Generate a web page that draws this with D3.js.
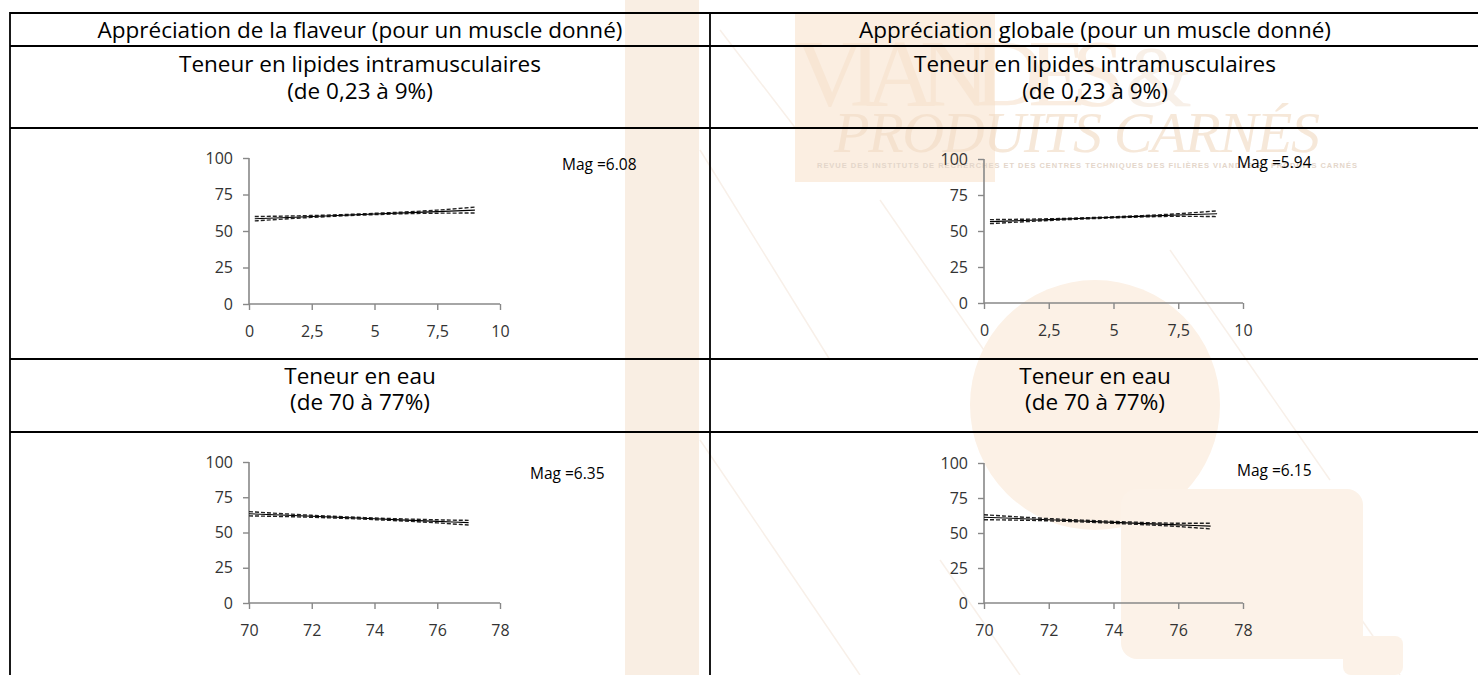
<!DOCTYPE html>
<html lang="fr">
<head>
<meta charset="utf-8">
<script src="https://cdn.jsdelivr.net/npm/d3@7"></script>
<style>
  body { margin: 0; background: #fff; }
  svg { display: block; font-family: "Open Sans", Lato, sans-serif; }
</style>
</head>
<body>
<div id="chart"></div>
<script>
// --- data ---
const colHeaders = ["Appréciation de la flaveur (pour un muscle donné)", "Appréciation globale (pour un muscle donné)"];
const rowLipides = ["Teneur en lipides intramusculaires", "(de 0,23 à 9%)"];
const rowEau = ["Teneur en eau", "(de 70 à 77%)"];

const yTicks = [0, 25, 50, 75, 100];
const xTicksLipides = [0, 2.5, 5, 7.5, 10];
const xTicksEau = [70, 72, 74, 76, 78];

const xLipides = [0.23, 2.5, 5, 7.5, 9];
const xEau = [70, 72, 74, 76, 77];

// flaveur ~ lipides
const flavLipFit = [58.4, 59.9, 61.6, 63.3, 64.3];
const flavLipHigh = [59.9, 60.6, 62.1, 64.3, 66.4];
const flavLipLow = [56.9, 59.3, 61.2, 62.2, 62.3];
// globale ~ lipides
const globLipFit = [56.5, 57.9, 59.5, 61.1, 62.0];
const globLipHigh = [57.9, 58.5, 59.9, 62.0, 64.0];
const globLipLow = [55.1, 57.3, 59.1, 60.2, 60.0];
// flaveur ~ eau
const flavEauFit = [63.3, 61.5, 59.7, 57.9, 57.0];
const flavEauHigh = [64.8, 62.2, 60.3, 59.0, 58.6];
const flavEauLow = [61.8, 60.8, 59.1, 56.8, 55.3];
// globale ~ eau
const globEauFit = [61.3, 59.5, 57.6, 55.8, 54.9];
const globEauHigh = [63.0, 60.3, 58.3, 57.0, 57.0];
const globEauLow = [59.5, 58.7, 56.9, 54.6, 52.9];

const mags = ["6.08", "5.94", "6.35", "6.15"];

const W = 1478, H = 675;
const frFormat = d3.formatLocale({decimal: ",", thousands: " ", grouping: [3], currency: ["", " €"]}).format("~g");

const svg = d3.select("#chart").append("svg")
  .attr("width", W)
  .attr("height", H);

// watermark (behind everything)
const wm = svg.append("g").attr("class", "watermark");
wm.append("rect").attr("x", 625).attr("y", 0).attr("width", 74).attr("height", H).attr("fill", "#f9eee3");
[[700, 150, 830, 360], [720, 30, 820, 160], [700, 440, 860, 675], [880, 200, 1060, 460], [1170, 250, 1330, 480], [1320, 560, 1400, 675], [940, 560, 1020, 675]]
  .forEach(l => wm.append("line")
    .attr("x1", l[0]).attr("y1", l[1]).attr("x2", l[2]).attr("y2", l[3])
    .attr("stroke", "#f8f0e9").attr("stroke-width", 1.5));
wm.append("circle").attr("cx", 1095).attr("cy", 405).attr("r", 125).attr("fill", "#fcf1e6");
wm.append("rect").attr("x", 1121).attr("y", 489).attr("width", 242).attr("height", 170).attr("rx", 16).attr("fill", "#fcf2e8");
wm.append("rect").attr("x", 1343).attr("y", 636).attr("width", 60).attr("height", 39).attr("rx", 8).attr("fill", "#fcf2e8");
wm.append("rect").attr("x", 795).attr("y", 14).attr("width", 200).attr("height", 168).attr("fill", "#fbeee1");
wm.append("text").attr("x", 795).attr("y", 106).attr("font-family", "'Liberation Serif', serif")
  .attr("font-size", 96).attr("fill", "#f6e0ca").attr("opacity", 0.55).attr("textLength", 330).text("VIANDES");
wm.append("text").attr("x", 1125).attr("y", 106).attr("font-family", "'Liberation Serif', serif")
  .attr("font-size", 86).attr("fill", "#f3e2d3").attr("opacity", 0.5).text("&");
wm.append("text").attr("x", 834).attr("y", 152).attr("font-family", "'Liberation Serif', serif")
  .attr("font-style", "italic").attr("font-size", 58).attr("fill", "#f2dcc6").attr("opacity", 0.65)
  .attr("textLength", 486).text("PRODUITS CARNÉS");
wm.append("text").attr("x", 817).attr("y", 168).attr("font-family", "'Liberation Sans Narrow', 'Liberation Sans', sans-serif")
  .attr("font-size", 7.5).attr("font-weight", "bold").attr("fill", "#e4d6ca").attr("textLength", 540)
  .text("REVUE DES INSTITUTS DE RECHERCHES ET DES CENTRES TECHNIQUES DES FILIÈRES VIANDES ET PRODUITS CARNÉS");

// table grid
const grid = svg.append("g").attr("stroke", "#000").attr("stroke-width", 1.8);
[13, 46, 128, 359, 432].forEach(y => grid.append("line").attr("x1", 10).attr("x2", W).attr("y1", y).attr("y2", y));
[10, 710].forEach(x => grid.append("line").attr("x1", x).attr("x2", x).attr("y1", 12).attr("y2", H));

// header texts
const colCenters = [360, 1095];
const txt = svg.append("g").attr("font-size", 22.5).attr("fill", "#000").attr("text-anchor", "middle");
colHeaders.forEach((t, i) => txt.append("text").attr("x", colCenters[i]).attr("y", 38).text(t));
colCenters.forEach(cx => {
  rowLipides.forEach((t, j) => txt.append("text").attr("x", cx).attr("y", 72 + j * 27).text(t));
  rowEau.forEach((t, j) => txt.append("text").attr("x", cx).attr("y", 384 + j * 26).text(t));
});

// the four small charts
const panels = [
  {x: xLipides, fit: flavLipFit, hi: flavLipHigh, lo: flavLipLow, xt: xTicksLipides, mag: mags[0], l: 249, r: 500, t: 158, b: 304, mx: 562, my: 170},
  {x: xLipides, fit: globLipFit, hi: globLipHigh, lo: globLipLow, xt: xTicksLipides, mag: mags[1], l: 984, r: 1243, t: 159, b: 303, mx: 1237, my: 168},
  {x: xEau, fit: flavEauFit, hi: flavEauHigh, lo: flavEauLow, xt: xTicksEau, mag: mags[2], l: 249, r: 500, t: 462, b: 603, mx: 530, my: 479},
  {x: xEau, fit: globEauFit, hi: globEauHigh, lo: globEauLow, xt: xTicksEau, mag: mags[3], l: 984, r: 1243, t: 463, b: 603, mx: 1237, my: 476}
];

panels.forEach(p => {
  const g = svg.append("g");
  const x = d3.scaleLinear().domain(d3.extent(p.xt)).range([p.l, p.r]);
  const y = d3.scaleLinear().domain([0, 100]).range([p.b, p.t]);

  const yAxis = g.append("g").attr("transform", `translate(${p.l},0)`)
    .call(d3.axisLeft(y).tickValues(yTicks).tickSize(6).tickPadding(10).tickFormat(frFormat));
  const xAxis = g.append("g").attr("transform", `translate(0,${p.b})`)
    .call(d3.axisBottom(x).tickValues(p.xt).tickSize(6).tickPadding(16).tickFormat(frFormat));
  [yAxis, xAxis].forEach(a => {
    a.select(".domain").attr("stroke", "#888").attr("stroke-width", 1.6);
    a.selectAll(".tick line").attr("stroke", "#888").attr("stroke-width", 1.4);
    a.selectAll(".tick text").attr("fill", "#333").attr("font-size", 16).attr("font-family", "'Open Sans', sans-serif");
  });
  // axisLeft draws the outer tick; keep just the line like the reference
  yAxis.select(".domain").attr("d", `M0,${p.t}V${p.b}`);
  xAxis.select(".domain").attr("d", `M${p.l},0H${p.r}`);

  const line = d3.line().curve(d3.curveMonotoneX).x((d, i) => x(p.x[i])).y(d => y(d));
  g.append("path").attr("d", line(p.hi)).attr("fill", "none").attr("stroke", "#222").attr("stroke-width", 1.4).attr("stroke-dasharray", "4,2");
  g.append("path").attr("d", line(p.lo)).attr("fill", "none").attr("stroke", "#222").attr("stroke-width", 1.4).attr("stroke-dasharray", "4,2");
  g.append("path").attr("d", line(p.fit)).attr("fill", "none").attr("stroke", "#000").attr("stroke-width", 1.1);

  g.append("text").attr("x", p.mx).attr("y", p.my).attr("font-size", 15.5).attr("fill", "#000").text("Mag =" + p.mag);
});
</script>
</body>
</html>
